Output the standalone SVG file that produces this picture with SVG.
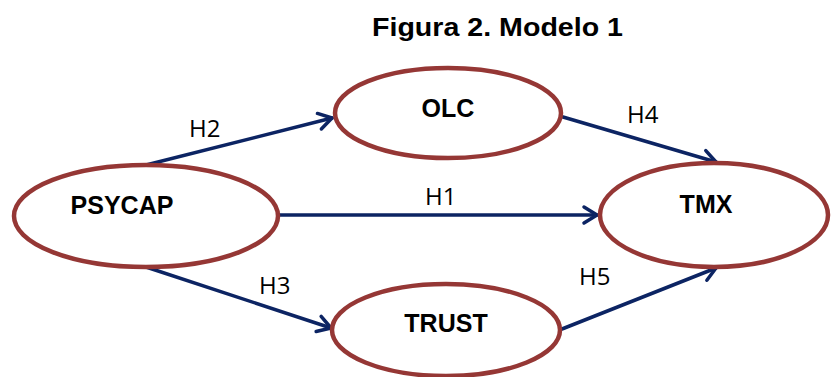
<svg xmlns="http://www.w3.org/2000/svg" width="831" height="377" viewBox="0 0 831 377">
  <style>
    .node { fill: #ffffff; stroke: #953735; stroke-width: 4.5; }
    .name { font-family: "Liberation Sans", Arial, sans-serif; font-weight: bold; font-size: 25px; fill: #000000; text-anchor: middle; }
    .edge { stroke: #0c2463; stroke-width: 3.5; fill: none; stroke-linecap: round; }
    .hyp { font-family: "Open Sans", "Noto Sans", sans-serif; font-size: 24px; fill: #000000; }
    .title { font-family: "Liberation Sans", Arial, sans-serif; font-weight: bold; font-size: 26px; fill: #000000; }
  </style>
  <defs>
    <marker id="chevron" markerUnits="userSpaceOnUse" markerWidth="30" markerHeight="30" viewBox="-20 -15 30 30" refX="0" refY="0" orient="auto">
      <path d="M-13,-8 L0,0 L-13,8" fill="none" stroke="#0c2463" stroke-width="3.5" stroke-linecap="round" stroke-linejoin="round"/>
    </marker>
  </defs>

  <rect width="831" height="377" fill="#ffffff"/>

  <text class="title" x="372" y="36" textLength="251" lengthAdjust="spacingAndGlyphs">Figura 2. Modelo 1</text>

  <!-- connectors -->
  <g id="connectors">
    <line class="edge" x1="146" y1="165" x2="332" y2="118" marker-end="url(#chevron)"/>
    <line class="edge" x1="279" y1="215" x2="597" y2="215" marker-end="url(#chevron)"/>
    <line class="edge" x1="146" y1="267" x2="331" y2="328" marker-end="url(#chevron)"/>
    <line class="edge" x1="563" y1="117" x2="716" y2="162" marker-end="url(#chevron)"/>
    <line class="edge" x1="562" y1="329" x2="716" y2="268" marker-end="url(#chevron)"/>
    <text class="hyp" x="189" y="137">H2</text>
    <text class="hyp" x="425" y="205">H1</text>
    <text class="hyp" x="259" y="294">H3</text>
    <text class="hyp" x="627" y="123">H4</text>
    <text class="hyp" x="579" y="285">H5</text>
  </g>

  <g id="psycap">
    <ellipse class="node" cx="146" cy="216" rx="132" ry="51"/>
    <text class="name" x="122" y="214">PSYCAP</text>
  </g>

  <g id="olc">
    <ellipse class="node" cx="448" cy="113" rx="113" ry="45"/>
    <text class="name" x="448" y="117">OLC</text>
  </g>

  <g id="tmx">
    <ellipse class="node" cx="714" cy="215" rx="114" ry="52"/>
    <text class="name" x="706" y="213">TMX</text>
  </g>

  <g id="trust">
    <ellipse class="node" cx="446" cy="330" rx="114" ry="46"/>
    <text class="name" x="446" y="332">TRUST</text>
  </g>
</svg>
